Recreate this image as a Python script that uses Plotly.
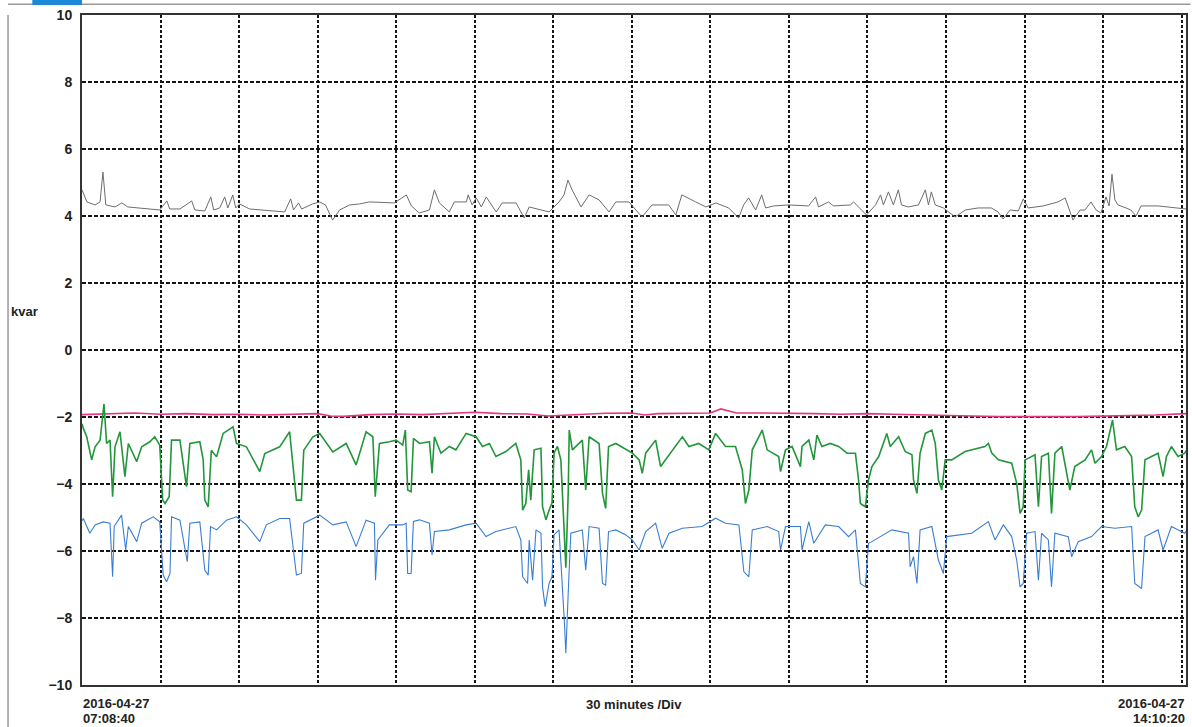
import plotly.graph_objects as go

# ---- data (minutes after 2016-04-27 07:08:40, kvar) ----
gray_t = [0, 0.8, 1.9, 5, 6.9, 8.0, 9.1, 12.6, 15.2, 17.5, 22.1, 25.9, 29.7, 32.4, 33.5, 37.4, 41.9, 43.1, 46.9, 49.2,
          50.3, 52.6, 54.5, 55.7, 57.6, 58.7, 60.2, 64.0, 69.8, 77.4, 79.7, 80.8, 82.7, 83.9, 88.1, 90.8, 93.0, 95.7, 98.4,
          102.2, 106.0, 109.8, 119.3, 123.9, 125.8, 128.8, 132.7, 134.6, 136.5, 140.3, 142.2, 146.8, 147.5, 149.0, 150.6,
          152.5, 154.4, 156.3, 158.2, 160.5, 165.8, 168.9, 170.8, 178.4, 182.2, 184.1, 185.6, 187.2, 188.7, 190.6, 193.7,
          197.5, 201.3, 203.9, 208.9, 213.9, 217.7, 224.1, 226.8, 229.1, 234.4, 238.3, 242.1, 247.0, 250.8, 252.7, 254.6,
          257.3, 259.6, 261.1, 264.2, 269.9, 277.5, 280.2, 281.3, 285.1, 287.0, 293.5, 294.7, 296.6, 299.6, 303.1, 305.0,
          306.1, 308.0, 309.9, 311.8, 313.0, 315.6, 319.5, 322.1, 323.3, 324.4, 325.9, 329.0, 333.5, 337.4, 342.3, 347.3,
          349.9, 351.8, 354.5, 357.6, 359.5, 361.4, 367.1, 372.8, 375.5, 377.0, 378.5, 381.2, 383.1, 385.4, 387.3, 389.2,
          391.1, 392.3, 393.4, 394.5, 395.7, 398.8, 400.6, 402.6, 404.5, 411.0, 416.7, 421.7]
gray_v = [4.78, 4.63, 4.42, 4.33, 4.42, 5.31, 4.33, 4.27, 4.39, 4.27, 4.24, 4.21, 4.18, 4.45, 4.21, 4.21, 4.45, 4.18, 4.15, 4.57,
          4.18, 4.24, 4.57, 4.24, 4.63, 4.24, 4.36, 4.21, 4.18, 4.12, 4.51, 4.18, 4.39, 4.21, 4.36, 4.42, 4.33, 3.88, 4.18,
          4.33, 4.36, 4.42, 4.39, 4.63, 4.30, 4.09, 4.18, 4.78, 4.39, 4.12, 4.42, 4.42, 4.63, 4.33, 4.54,
          4.27, 4.57, 4.33, 4.12, 4.39, 4.39, 3.94, 4.27, 4.12, 4.42, 4.63, 5.07, 4.78, 4.57, 4.27, 4.63,
          4.48, 4.12, 4.42, 4.42, 3.97, 4.33, 4.33, 4.03, 4.63, 4.42, 4.27, 4.39, 4.24, 3.94, 4.33, 4.54,
          4.18, 4.63, 4.24, 4.30, 4.33, 4.30, 4.57, 4.27, 4.42, 4.30, 4.33, 4.42, 4.27, 4.03, 4.33, 4.63,
          4.33, 4.72, 4.33, 4.78, 4.33, 4.27, 4.33, 4.78, 4.33, 4.72, 4.33, 4.24, 3.97, 4.18, 4.24, 4.24,
          4.12, 3.91, 4.18, 4.15, 4.51, 4.24, 4.30, 4.42, 4.54, 4.18, 3.88, 4.18, 4.18, 4.42, 4.18, 4.09,
          4.57, 4.30, 5.25, 4.48, 4.33, 4.24, 4.18, 4.00, 4.30, 4.30, 4.24, 4.21]

pink_t = [0, 10, 20, 30, 40, 50, 60, 70, 80, 90, 95, 100, 110, 120, 130, 140, 150, 160, 170, 178, 190, 200, 210, 215,
          220, 230, 240, 244, 250, 260, 270, 280, 290, 300, 310, 320, 330, 340, 350, 360, 370, 380, 390, 400, 410, 421.7]
pink_v = [-1.93, -1.90, -1.88, -1.92, -1.90, -1.93, -1.92, -1.94, -1.92, -1.90, -1.97, -1.98, -1.93, -1.91, -1.93, -1.90,
          -1.86, -1.90, -1.91, -1.97, -1.92, -1.89, -1.88, -1.94, -1.90, -1.88, -1.88, -1.76, -1.88, -1.88, -1.88, -1.90,
          -1.92, -1.90, -1.92, -1.93, -1.95, -1.97, -1.99, -2.00, -1.99, -1.99, -1.98, -1.96, -1.94, -1.90]

green_t = [0, 0.5, 1.8, 3.7, 5.0, 6.9, 8.4, 9.4, 10.7, 11.7, 12.6, 14.5, 16.4, 17.7, 20.9, 22.8, 25.9, 27.8, 29.7, 30.8,
           31.7, 33.3, 34.2, 37.4, 39.9, 41.2, 45.0, 46.3, 46.9, 48.2, 49.4, 51.4, 53.9, 57.7, 59.0, 62.8, 67.9, 69.8,
           75.5, 79.3, 81.9, 83.8, 84.7, 88.2, 90.8, 95.8, 100.9, 104.7, 108.5, 111.1, 112.0, 113.0, 113.6, 117.4, 120.0,
           122.5, 123.5, 124.4, 125.7, 126.6, 128.9, 132.7, 133.7, 134.6, 137.1, 140.3, 142.8, 146.7, 150.5, 153.0, 155.6,
           158.1, 161.9, 165.7, 167.6, 168.3, 169.5, 170.6, 171.4, 172.7, 175.3, 175.9, 177.2, 178.4, 179.5, 180.3, 181.6,
           182.9, 184.2, 184.8, 185.7, 186.1, 187.3, 191.1, 192.4, 193.7, 197.5, 198.8, 200.0, 201.1, 203.9, 207.7, 210.2,
           212.8, 214.0, 215.3, 219.1, 221.0, 224.2, 229.3, 231.8, 235.6, 239.4, 242.0, 245.8, 249.6, 252.2, 253.4, 254.7,
           256.0, 259.8, 261.7, 266.1, 266.8, 268.7, 271.2, 274.4, 275.0, 277.6, 279.5, 280.7, 282.6, 285.8, 289.0, 292.2,
           295.4, 296.6, 297.3, 299.2, 300.4, 301.7, 304.3, 307.4, 308.7, 311.9, 314.4, 317.0, 317.6, 318.9, 320.1, 322.1,
           324.6, 325.9, 327.1, 328.4, 329.7, 332.2, 337.3, 344.9, 346.2, 347.5, 350.0, 355.1, 357.0, 358.3, 359.5, 360.2,
           364.0, 365.3, 366.5, 369.1, 370.3, 371.6, 374.2, 377.3, 379.2, 383.1, 385.6, 386.9, 389.4, 391.3, 393.6, 395.1,
           398.3, 400.9, 402.1, 403.4, 404.7, 406.0, 411.0, 412.9, 414.2, 416.1, 418.6, 421.2, 421.7]
green_v = [-2.2, -2.34, -2.59, -3.28, -2.89, -2.69, -1.61, -2.79, -2.69, -4.38, -2.89, -2.44, -3.78, -2.79, -3.33, -2.89,
           -2.74, -2.59, -2.84, -4.48, -4.58, -4.38, -2.69, -2.69, -4.08, -2.79, -2.74, -3.28, -4.48, -4.68, -2.99, -3.19,
           -2.49, -2.29, -2.79, -2.89, -3.63, -3.09, -2.89, -2.44, -4.48, -4.48, -2.99, -2.59, -2.49, -3.04, -2.79, -3.43,
           -2.44, -2.59, -4.38, -3.48, -2.79, -2.74, -2.69, -2.84, -2.39, -4.18, -4.23, -2.64, -2.79, -2.74, -3.68, -2.59,
           -3.08, -2.88, -2.98, -2.49, -2.59, -2.88, -2.79, -3.18, -3.03, -2.79, -3.28, -4.78, -4.58, -3.58, -4.48, -2.98,
           -2.93, -4.68, -5.07, -4.78, -4.58, -3.08, -2.88, -3.28, -5.27, -6.5, -4.28, -2.39, -2.98, -2.69, -4.18, -2.59,
           -2.79, -4.28, -4.73, -2.88, -2.79, -2.98, -3.08, -3.28, -3.68, -3.08, -2.69, -3.48, -3.13, -2.59, -2.88, -2.79,
           -2.98, -2.49, -2.88, -2.88, -3.58, -4.58, -4.18, -2.98, -2.39, -2.98, -3.18, -3.63, -2.98, -2.88, -3.48, -2.88,
           -2.69, -3.28, -2.54, -2.88, -2.79, -2.88, -3.08, -3.08, -3.88, -4.58, -4.68, -3.88, -3.48, -3.18, -2.49, -2.88,
           -2.59, -3.03, -3.13, -3.88, -4.28, -3.08, -2.49, -2.39, -2.79, -3.88, -4.18, -3.28, -3.28, -3.03, -2.88, -2.79,
           -3.08, -3.28, -3.38, -3.98, -4.88, -4.68, -3.28, -3.13, -4.68, -3.18, -3.08, -4.88, -3.08, -2.88, -4.18, -3.48,
           -3.28, -2.98, -3.38, -3.18, -2.88, -2.09, -2.98, -2.88, -3.18, -4.68, -4.98, -4.78, -3.28, -3.08, -3.78, -3.18,
           -2.88, -3.18, -3.08, -3.0]

blue_t = [0, 0.5, 3.0, 5.0, 8.1, 10.7, 11.7, 12.3, 15.1, 16.7, 17.7, 20.9, 22.8, 27.2, 29.7, 31.0, 32.3, 33.6, 34.2, 37.4,
          40.2, 41.2, 45.0, 46.9, 48.2, 49.1, 51.4, 55.2, 59.0, 62.8, 67.9, 70.4, 75.5, 79.3, 81.9, 83.8, 84.7, 90.8, 95.8,
          100.9, 104.7, 108.5, 111.7, 112.1, 113.0, 117.4, 122.5, 123.8, 124.4, 125.7, 126.6, 128.9, 132.7, 133.7, 134.6,
          140.3, 146.7, 150.5, 154.3, 158.1, 165.7, 167.6, 168.3, 170.2, 170.8, 172.1, 173.4, 175.3, 175.9, 176.9, 178.4,
          179.5, 180.3, 182.2, 184.2, 184.8, 185.7, 186.7, 191.1, 192.4, 193.7, 197.5, 198.8, 200.0, 201.1, 203.9, 207.7,
          210.2, 212.8, 215.3, 219.1, 221.6, 224.2, 229.3, 236.9, 242.0, 245.8, 250.9, 252.8, 254.7, 256.0, 261.7, 266.1,
          266.8, 268.7, 274.4, 275.0, 277.6, 279.5, 283.9, 289.0, 292.8, 295.4, 296.6, 297.3, 299.2, 300.4, 301.7, 309.3,
          315.7, 316.3, 317.6, 318.9, 320.1, 324.6, 327.1, 329.0, 330.3, 334.8, 339.8, 346.2, 348.7, 351.9, 355.1, 357.0,
          358.3, 359.5, 360.8, 364.0, 365.3, 366.5, 369.1, 370.3, 371.6, 376.7, 378.0, 380.5, 385.6, 389.4, 394.5, 400.9,
          402.1, 404.7, 406.0, 411.0, 412.9, 416.1, 421.2, 421.7]
blue_v = [-5.1, -5.03, -5.47, -5.22, -5.13, -5.17, -6.77, -5.27, -4.93, -5.97, -5.27, -5.72, -5.17, -4.98, -5.13, -6.72,
          -6.92, -6.67, -4.98, -5.08, -6.32, -5.17, -5.13, -6.57, -6.72, -5.27, -5.37, -5.08, -4.98, -5.22, -5.72, -5.22,
          -5.03, -5.03, -6.72, -6.67, -5.17, -4.93, -5.22, -5.13, -5.87, -5.08, -5.17, -6.87, -5.67, -5.22, -5.22, -5.17,
          -6.67, -6.67, -5.12, -5.07, -5.17, -6.12, -5.42, -5.37, -5.22, -5.17, -5.57, -5.42, -5.27, -5.67, -6.77, -6.97,
          -5.67, -6.87, -5.37, -5.47, -7.07, -7.66, -6.97, -6.77, -5.52, -5.37, -8.06, -9.05, -7.26, -5.47, -5.37, -6.57,
          -5.27, -5.32, -6.97, -7.02, -5.42, -5.37, -5.52, -5.67, -5.97, -5.42, -5.17, -5.92, -5.47, -5.32, -5.27, -5.02,
          -5.17, -5.22, -6.62, -6.77, -5.37, -5.27, -5.42, -5.97, -5.27, -5.27, -5.97, -5.12, -5.77, -5.22, -5.27, -5.57,
          -5.37, -6.27, -6.97, -7.07, -5.77, -5.72, -5.37, -5.47, -6.47, -6.17, -6.97, -5.37, -5.27, -6.27, -6.67, -5.57,
          -5.52, -5.47, -5.12, -5.67, -5.22, -5.57, -6.27, -7.07, -6.97, -5.47, -5.42, -6.87, -5.47, -5.67, -7.07, -5.47,
          -5.57, -6.17, -5.72, -5.57, -5.27, -5.32, -5.27, -6.97, -7.12, -5.57, -5.37, -5.97, -5.27, -5.47, -5.4]

y_ticks = [-10, -8, -6, -4, -2, 0, 2, 4, 6, 8, 10]
start_date, start_time = "2016-04-27", "07:08:40"
end_date, end_time = "2016-04-27", "14:10:20"
div_label = "30 minutes /Div"
unit_label = "kvar"
span_minutes = 421.667

FONT = "Liberation Sans, Arial, sans-serif"
TXT = dict(size=13, family=FONT, color="#222")

fig = go.Figure()
fig.add_trace(go.Scatter(x=gray_t, y=gray_v, mode="lines", line=dict(color="#6e6e6e", width=1), showlegend=False))
fig.add_trace(go.Scatter(x=pink_t, y=pink_v, mode="lines", line=dict(color="#e5397e", width=1.6), showlegend=False))
fig.add_trace(go.Scatter(x=green_t, y=green_v, mode="lines", line=dict(color="#23963c", width=1.6), showlegend=False))
fig.add_trace(go.Scatter(x=blue_t, y=blue_v, mode="lines", line=dict(color="#3a7ed2", width=1.1), showlegend=False))


def label(text, x, xanchor, yshift):
    return dict(text=f"<b>{text}</b>", xref="paper", yref="paper", x=x, y=0, xanchor=xanchor, yanchor="top",
                yshift=yshift, showarrow=False, font=TXT, borderpad=0)


fig.update_layout(
    width=1192, height=727,
    margin=dict(l=82, r=4, t=15, b=42),
    paper_bgcolor="white", plot_bgcolor="white",
    font=dict(family=FONT, color="#222"),
    xaxis=dict(range=[0, span_minutes], tick0=0, dtick=30, showticklabels=False, ticks="",
               showgrid=True, gridcolor="#151515", gridwidth=1.6, griddash="3px,2px",
               zeroline=False, showline=True, mirror=True, linecolor="#333", linewidth=2),
    yaxis=dict(range=[-10, 10], tickvals=y_ticks, ticks="", ticklabelstandoff=5,
               tickfont=dict(size=14, family=FONT, weight="bold", color="#222"),
               showgrid=True, gridcolor="#151515", gridwidth=1.6, griddash="4px,2px",
               zeroline=False, showline=True, mirror=True, linecolor="#333", linewidth=2),
    annotations=[
        label(start_date, 0, "left", -10),
        label(start_time, 0, "left", -25),
        label(end_date, 1, "right", -10),
        label(end_time, 1, "right", -25),
        label(div_label, 0.5, "center", -11),
        dict(text=f"<b>{unit_label}</b>", xref="paper", yref="paper", x=-0.066, y=0.557, xanchor="left",
             yanchor="middle", showarrow=False, font=TXT),
    ],
    shapes=[
        dict(type="line", xref="paper", yref="paper", x0=-0.067, x1=-0.067, y0=-0.07, y1=1.0,
             line=dict(color="#9a9a9a", width=1.5)),
        dict(type="line", xref="paper", yref="paper", x0=-0.067, x1=1.004, y0=1.016, y1=1.016,
             line=dict(color="#9a9a9a", width=1.5)),
        dict(type="rect", xref="paper", yref="paper", x0=-0.045, x1=0.0, y0=1.015, y1=1.03,
             fillcolor="#1e88d8", line=dict(width=0)),
    ],
)

fig.write_html("out.html")
